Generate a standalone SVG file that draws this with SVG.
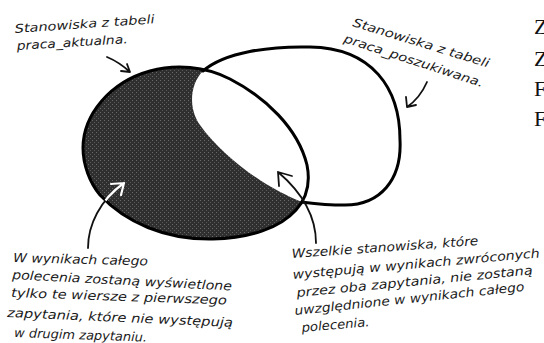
<svg xmlns="http://www.w3.org/2000/svg" width="544" height="343" viewBox="0 0 544 343">
<style>
.hand{font-family:"DejaVu Sans","Liberation Sans",sans-serif;font-style:italic;fill:#1a1a1a}
.s12{font-size:12px}
.s13{font-size:12.5px}
.serif{font-family:"Liberation Serif",serif;font-size:22px;fill:#111}
.outline{fill:none;stroke:#000;stroke-width:3;stroke-linecap:round;stroke-linejoin:round}
.arrow{fill:none;stroke:#111;stroke-width:1.8;stroke-linecap:round;stroke-linejoin:round}
.arrowW{fill:none;stroke:#fff;stroke-width:2.2;stroke-linecap:round;stroke-linejoin:round}
</style>
<defs>
<path id="shapeA" d="M83,148 C83,115 110,82 150,71 C175,64 205,66 230,79 C265,97 298,128 307,165 C311,185 305,200 296,210 C280,228 250,238 213,239 C165,240 125,222 100,195 C90,183 83,165 83,148 Z"/>
<clipPath id="clipA"><use href="#shapeA"/></clipPath>
<pattern id="grain" width="4" height="4" patternUnits="userSpaceOnUse">
<rect width="4" height="4" fill="#2f2f2f"/>
<rect x="0" y="0" width="1" height="1" fill="#6a6a6a"/>
<rect x="2" y="2" width="1" height="1" fill="#5a5a5a"/>
</pattern>
</defs>
<rect width="544" height="343" fill="#fff"/>

<g id="setA">
<use href="#shapeA" fill="url(#grain)"/>
</g>
<g id="setB">
<path d="M203,71 C225,52 270,46 310,47 C372,48 400,88 400,140 C402,180 380,205 345,205 C325,205 310,203 302,202 C270,190 225,160 200,125 C188,108 190,84 203,71 Z" fill="#fff"/>
<path class="outline" d="M203,71 C225,52 270,46 310,47 C372,48 400,88 400,140 C402,180 380,205 345,205 C325,205 310,203 302,202"/>
</g>
<g id="setA-outline">
<use href="#shapeA" class="outline"/>
</g>

<g id="connectors">
<path class="arrow" d="M107,57 Q119,62 130,72 M130,72 L121,71 M130,72 L127,64"/>
<path class="arrow" d="M427,82 Q420,98 407,107 M407,107 L406,97 M407,107 L416,105"/>
<path class="arrow" d="M88,248 C88,225 100,200 124,183 M124,183 L111,184 M124,183 L121,195"/>
<g clip-path="url(#clipA)">
<path class="arrowW" d="M88,248 C88,225 100,200 124,183 M124,183 L111,184 M124,183 L121,195"/>
</g>
<path class="arrow" d="M316,243 C316,220 305,195 278,172 M278,172 L292,176 M278,172 L279,186"/>
</g>

<g id="label-aktualna">
<text class="hand s12" transform="translate(15,33) rotate(-4)" textLength="140" lengthAdjust="spacingAndGlyphs">Stanowiska z tabeli</text>
<text class="hand s12" transform="translate(17,50) rotate(-3.5)" textLength="111" lengthAdjust="spacingAndGlyphs">praca_aktualna.</text>
</g>
<g id="label-poszukiwana">
<text class="hand s12" transform="translate(352,26) rotate(17)" textLength="142" lengthAdjust="spacingAndGlyphs">Stanowiska z tabeli</text>
<text class="hand s12" transform="translate(343,42) rotate(18)" textLength="146" lengthAdjust="spacingAndGlyphs">praca_poszukiwana.</text>
</g>
<g id="label-left">
<text class="hand s13" transform="translate(13,262) rotate(1.5)" textLength="135" lengthAdjust="spacingAndGlyphs">W wynikach całego</text>
<text class="hand s13" transform="translate(12,279) rotate(3)" textLength="220" lengthAdjust="spacingAndGlyphs">polecenia zostaną wyświetlone</text>
<text class="hand s13" transform="translate(11,297) rotate(2)" textLength="216" lengthAdjust="spacingAndGlyphs">tylko te wiersze z pierwszego</text>
<text class="hand s13" transform="translate(7,317) rotate(2.5)" textLength="226" lengthAdjust="spacingAndGlyphs">zapytania, które nie występują</text>
<text class="hand s13" transform="translate(14,337) rotate(2)" textLength="133" lengthAdjust="spacingAndGlyphs">w drugim zapytaniu.</text>
</g>
<g id="label-right">
<text class="hand s13" transform="translate(292,258) rotate(-4)" textLength="187" lengthAdjust="spacingAndGlyphs">Wszelkie stanowiska, które</text>
<text class="hand s13" transform="translate(293,279) rotate(-5)" textLength="248" lengthAdjust="spacingAndGlyphs">występują w wynikach zwróconych</text>
<text class="hand s13" transform="translate(297,297) rotate(-5.5)" textLength="237" lengthAdjust="spacingAndGlyphs">przez oba zapytania, nie zostaną</text>
<text class="hand s13" transform="translate(295,315) rotate(-6)" textLength="231" lengthAdjust="spacingAndGlyphs">uwzględnione w wynikach całego</text>
<text class="hand s13" transform="translate(302,332) rotate(-5)" textLength="68" lengthAdjust="spacingAndGlyphs">polecenia.</text>
</g>
<g id="margin-letters">
<text class="serif" x="534" y="34">Z</text>
<text class="serif" x="534" y="66">Z</text>
<text class="serif" x="534" y="96">F</text>
<text class="serif" x="534" y="126">F</text>
</g>
</svg>
